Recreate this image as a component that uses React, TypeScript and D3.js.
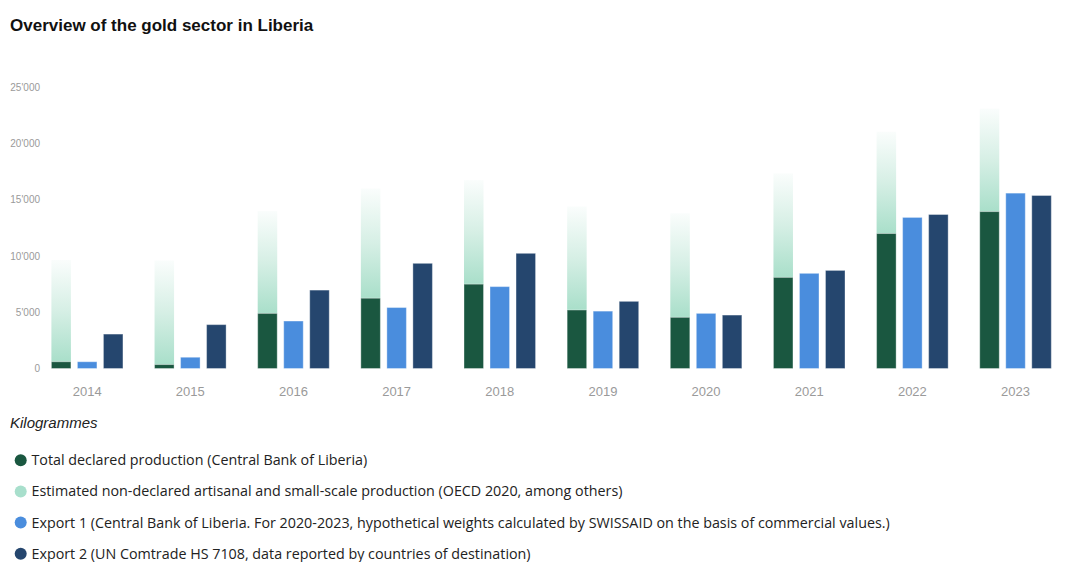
import React from "react";
import * as d3 from "d3";

const years = ["2014", "2015", "2016", "2017", "2018", "2019", "2020", "2021", "2022", "2023"];
const declared = [600, 350, 4900, 6250, 7500, 5200, 4550, 8100, 12000, 13950];
const nonDeclared = [9050, 9250, 9100, 9750, 9250, 9200, 9250, 9250, 9050, 9150];
const export1 = [600, 1000, 4220, 5420, 7280, 5100, 4900, 8460, 13430, 15590];
const export2 = [3060, 3900, 6970, 9350, 10240, 5970, 4750, 8720, 13690, 15380];
const yTicks = [0, 5000, 10000, 15000, 20000, 25000];

const legendItems = [
  { label: "Total declared production (Central Bank of Liberia)", color: "#1a5740" },
  { label: "Estimated non-declared artisanal and small-scale production (OECD 2020, among others)", color: "#a8dfcc" },
  { label: "Export 1 (Central Bank of Liberia. For 2020-2023, hypothetical weights calculated by SWISSAID on the basis of commercial values.)", color: "#4a8ddd" },
  { label: "Export 2 (UN Comtrade HS 7108, data reported by countries of destination)", color: "#25466e" },
];

const W = 1088;
const H = 562;

export default function App() {
  const x = d3.scaleBand<string>().domain(years).range([35.6, 1067.1]).padding(0);
  const sub = d3
    .scaleBand<string>()
    .domain(["declared", "e1", "e2"])
    .range([15.8, x.bandwidth() - 15.8])
    .paddingInner(0.25)
    .paddingOuter(0);
  const y = d3.scaleLinear().domain([0, 25000]).range([368.5, 87.3]);
  const fmt = d3.formatLocale({ thousands: "'", grouping: [3], decimal: ".", currency: ["", ""] }).format(",");
  const bw = sub.bandwidth();

  return (
    <div style={{ position: "absolute", left: 0, top: 0, width: W, height: H, background: "#fff" }}>
      <svg width={W} height={H} style={{ display: "block" }}>
        <defs>
          <linearGradient id="fade" x1="0" y1="1" x2="0" y2="0">
            <stop offset="0%" stopColor="#a9dfca" />
            <stop offset="50%" stopColor="#d6efe5" />
            <stop offset="100%" stopColor="#fafdfc" />
          </linearGradient>
        </defs>
        <text x={10} y={31} fontFamily="'Liberation Sans', Arial, sans-serif" fontWeight="bold" fontSize={17} fill="#111">
          Overview of the gold sector in Liberia
        </text>

        {yTicks.map((t) => (
          <text
            key={t}
            x={40}
            y={y(t)}
            dy="0.35em"
            textAnchor="end"
            fontFamily="'Liberation Sans', Arial, sans-serif"
            fontSize={10}
            fill="#9a9a9a"
          >
            {fmt(t)}
          </text>
        ))}

        {years.map((yr, i) => {
          const gx = x(yr)!;
          const xd = gx + sub("declared")!;
          const x1 = gx + sub("e1")!;
          const x2 = gx + sub("e2")!;
          const top = declared[i] + nonDeclared[i];
          return (
            <g key={yr}>
              <rect x={xd} y={y(top)} width={bw} height={y(declared[i]) - y(top)} fill="url(#fade)" />
              <rect x={xd} y={y(declared[i])} width={bw} height={y(0) - y(declared[i])} fill="#1a5740" stroke="#ffffff" strokeOpacity={0.35} strokeWidth={1} />
              <rect x={x1} y={y(export1[i])} width={bw} height={y(0) - y(export1[i])} fill="#4a8ddd" stroke="#ffffff" strokeOpacity={0.35} strokeWidth={1} />
              <rect x={x2} y={y(export2[i])} width={bw} height={y(0) - y(export2[i])} fill="#25466e" stroke="#ffffff" strokeOpacity={0.35} strokeWidth={1} />
              <text
                x={gx + x.bandwidth() / 2}
                y={396}
                textAnchor="middle"
                fontFamily="'Liberation Sans', Arial, sans-serif"
                fontSize={13}
                fill="#9a9a9a"
              >
                {yr}
              </text>
            </g>
          );
        })}

        <text x={10} y={428} fontFamily="'Liberation Sans', Arial, sans-serif" fontStyle="italic" fontSize={15} fill="#222">
          Kilogrammes
        </text>

        {legendItems.map((item, i) => {
          const cy = 460.2 + i * 31.2;
          return (
            <g key={item.label}>
              <circle cx={20.7} cy={cy} r={6} fill={item.color} />
              <text x={31.5} y={cy} dy="0.35em" fontFamily="'Open Sans', sans-serif" fontSize={14.3} fill="#222">
                {item.label}
              </text>
            </g>
          );
        })}
      </svg>
    </div>
  );
}
